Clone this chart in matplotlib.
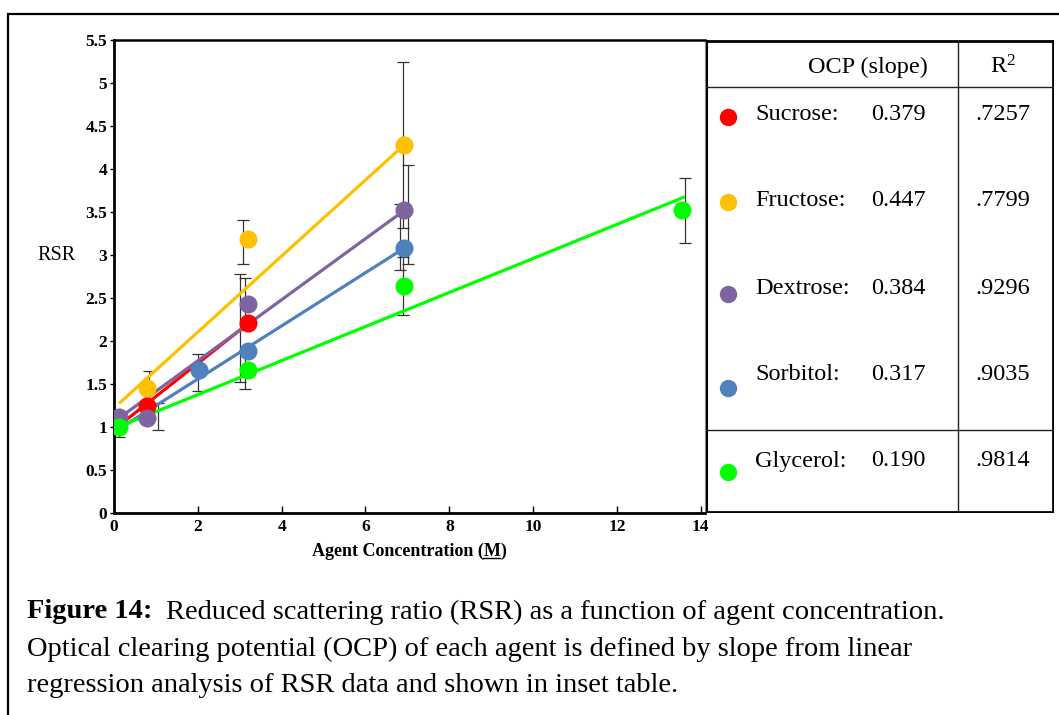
import matplotlib
matplotlib.use("Agg")
import matplotlib.pyplot as plt
from matplotlib.patches import Rectangle
from matplotlib.lines import Line2D

plt.rcParams['font.family'] = ['Liberation Serif', 'DejaVu Serif']
plt.rcParams['mathtext.fontset'] = 'custom'
plt.rcParams['mathtext.rm'] = 'Liberation Serif'
plt.rcParams['mathtext.it'] = 'Liberation Serif:italic'
plt.rcParams['mathtext.bf'] = 'Liberation Serif:bold'

# ---------------- data ----------------
agents = ["Sucrose", "Fructose", "Dextrose", "Sorbitol", "Glycerol"]
colors = ["#FF0000", "#FFC000", "#8064A2", "#4F81BD", "#00FF00"]
ocp_text = ["0.379", "0.447", "0.384", "0.317", "0.190"]
r2_text = [".7257", ".7799", ".9296", ".9035", ".9814"]

sucrose_x = [0.78, 3.2]
sucrose_y = [1.24, 2.21]
fructose_x = [0.78, 3.2, 6.92]
fructose_y = [1.45, 3.19, 4.28]
dextrose_x = [0.12, 0.78, 3.2, 6.92]
dextrose_y = [1.12, 1.11, 2.43, 3.52]
sorbitol_x = [2.03, 3.2, 6.92]
sorbitol_y = [1.66, 1.88, 3.08]
glycerol_x = [0.12, 3.2, 6.92, 13.54]
glycerol_y = [1.00, 1.66, 2.64, 3.52]
points_x = [sucrose_x, fructose_x, dextrose_x, sorbitol_x, glycerol_x]
points_y = [sucrose_y, fructose_y, dextrose_y, sorbitol_y, glycerol_y]

# regression lines: intercept, slope, x-range
line_intercept = [0.97, 1.22, 1.06, 0.94, 0.98]
line_slope = [0.385, 0.442, 0.355, 0.309, 0.198]
line_x0 = [0.12, 0.12, 0.12, 0.12, 0.12]
line_x1 = [3.2, 6.92, 6.92, 6.92, 13.62]

# error bars: x position, lower, upper
err_x = [0.84, 3.07, 6.90, 1.06, 3.0, 3.12, 7.02, 2.01, 6.82, 0.12, 3.12, 6.90, 13.62]
err_lo = [1.25, 2.90, 3.31, 0.97, 1.52, 2.13, 2.90, 1.42, 2.83, 0.88, 1.44, 2.30, 3.14]
err_hi = [1.65, 3.41, 5.25, 1.28, 2.78, 2.73, 4.05, 1.85, 3.59, 1.12, 1.88, 2.98, 3.90]

x_ticks = [0, 2, 4, 6, 8, 10, 12, 14]
y_ticks = [0, 0.5, 1, 1.5, 2, 2.5, 3, 3.5, 4, 4.5, 5, 5.5]
y_tick_labels = ["0", "0.5", "1", "1.5", "2", "2.5", "3", "3.5", "4", "4.5", "5", "5.5"]

W, H = 1059, 715
fig = plt.figure(figsize=(W / 100, H / 100), dpi=100)

# outer frame (left and top visible)
fig.patches.append(Rectangle((8 / W, -0.1), 1.2, (H - 14) / H + 0.1, transform=fig.transFigure,
                             fill=False, edgecolor="black", linewidth=1.6))

ax_l, ax_r, ax_t, ax_b = 114, 705, 40, 513
ax = fig.add_axes([ax_l / W, 1 - ax_b / H, (ax_r - ax_l) / W, (ax_b - ax_t) / H])
ax.set_xlim(0, 14.1)
ax.set_ylim(0, 5.5)

# error bars
for x, lo, hi in zip(err_x, err_lo, err_hi):
    ax.errorbar([x], [(lo + hi) / 2], yerr=[[(hi - lo) / 2], [(hi - lo) / 2]], fmt='none',
                ecolor="#333333", elinewidth=0.9, capsize=4, capthick=0.9, zorder=2)

# regression lines
for i in range(len(agents)):
    xs = [line_x0[i], line_x1[i]]
    ys = [line_intercept[i] + line_slope[i] * v for v in xs]
    ax.plot(xs, ys, color=colors[i], linewidth=2.3, solid_capstyle='butt', zorder=3)

# points
for i in range(len(agents)):
    ax.plot(points_x[i], points_y[i], 'o', color=colors[i], markersize=13, markeredgewidth=0, zorder=4)

ax.set_xticks(x_ticks)
ax.set_xticklabels([str(t) for t in x_ticks], fontweight='bold', fontsize=12.5)
ax.set_yticks(y_ticks)
ax.set_yticklabels(y_tick_labels, fontweight='bold', fontsize=12.5)
ax.tick_params(axis='x', direction='in', length=5, width=1, pad=4)
ax.tick_params(axis='y', direction='out', length=3, width=1, pad=2)
for s in ['left', 'bottom']:
    ax.spines[s].set_linewidth(2)
ax.spines['top'].set_linewidth(1.8)
ax.spines['right'].set_linewidth(0.8)
ax.spines['right'].set_color('#888888')

fig.text(57 / W, 1 - 255 / H, "RSR", fontsize=14.5, ha='center', va='center')
xl = fig.text(409 / W, 1 - 551 / H, "Agent Concentration (M)", fontsize=13,
              ha='center', va='center', fontweight='bold')

# ---------------- inset table ----------------
tl, tr = 706, 1054
tab = fig.add_axes([tl / W, 1 - ax_b / H, (tr - tl) / W, (ax_b - ax_t) / H])
tab.set_xlim(tl, tr)
tab.set_ylim(ax_b, ax_t)
tab.axis('off')
lk = dict(color='#222222', linewidth=1.0)
tab.add_line(Line2D([tl + 1, tl + 1], [ax_t, ax_b], color='black', linewidth=1.5))
tab.add_line(Line2D([tr - 1, tr - 1], [ax_t, ax_b], color='black', linewidth=2))
tab.add_line(Line2D([tl, tr], [ax_t + 1, ax_t + 1], color='black', linewidth=2))
tab.add_line(Line2D([tl, tr], [ax_b - 1, ax_b - 1], color='black', linewidth=2))
tab.add_line(Line2D([958, 958], [ax_t, ax_b], **lk))
tab.add_line(Line2D([tl, tr], [87, 87], **lk))
tab.add_line(Line2D([tl, tr], [430, 430], **lk))

tfs = 17.5
tab.text(868, 67, "OCP (slope)", fontsize=tfs, ha='center', va='center')
tab.text(1003, 67, r"R$^{2}$", fontsize=tfs, ha='center', va='center')

row_text_y = [114, 201, 288, 374, 461]
row_dot_y = [117, 202, 294, 388, 472]
for i in range(len(agents)):
    tab.plot([728], [row_dot_y[i]], 'o', color=colors[i], markersize=12.5, markeredgewidth=0)
    tab.text(755, row_text_y[i], agents[i] + ":", fontsize=tfs, ha='left', va='center')
    tab.text(871, row_text_y[i], ocp_text[i], fontsize=tfs, ha='left', va='center')
    tab.text(1003, row_text_y[i], r2_text[i], fontsize=tfs, ha='center', va='center')

# ---------------- caption ----------------
cap_lines = [
    "Reduced scattering ratio (RSR) as a function of agent concentration.",
    "Optical clearing potential (OCP) of each agent is defined by slope from linear",
    "regression analysis of RSR data and shown in inset table.",
]
fs = 20.5
t1 = fig.text(27 / W, 1 - 612 / H, "Figure 14:", fontsize=fs, fontweight='bold', ha='left', va='center')
fig.canvas.draw()
r = fig.canvas.get_renderer()
bb = t1.get_window_extent(r)
fig.text((bb.x1 + 14) / W, 1 - 612 / H, cap_lines[0], fontsize=fs, ha='left', va='center')
fig.text(27 / W, 1 - 649 / H, cap_lines[1], fontsize=fs, ha='left', va='center')
fig.text(27 / W, 1 - 686 / H, cap_lines[2], fontsize=fs, ha='left', va='center')

# underline the "M" of the x-axis label
xbb = xl.get_window_extent(r)
pre = fig.text(0, 0, "Agent Concentration (", fontsize=13, fontweight='bold')
mm = fig.text(0, 0, "M", fontsize=13, fontweight='bold')
wpre = pre.get_window_extent(r).width
wm = mm.get_window_extent(r).width
pre.remove()
mm.remove()
ux0 = xbb.x0 + wpre
fig.lines.append(Line2D([ux0 / W, (ux0 + wm) / W], [(xbb.y0 + 2) / H, (xbb.y0 + 2) / H],
                        transform=fig.transFigure, color='black', linewidth=1))

fig.savefig("out.png", dpi=100)
